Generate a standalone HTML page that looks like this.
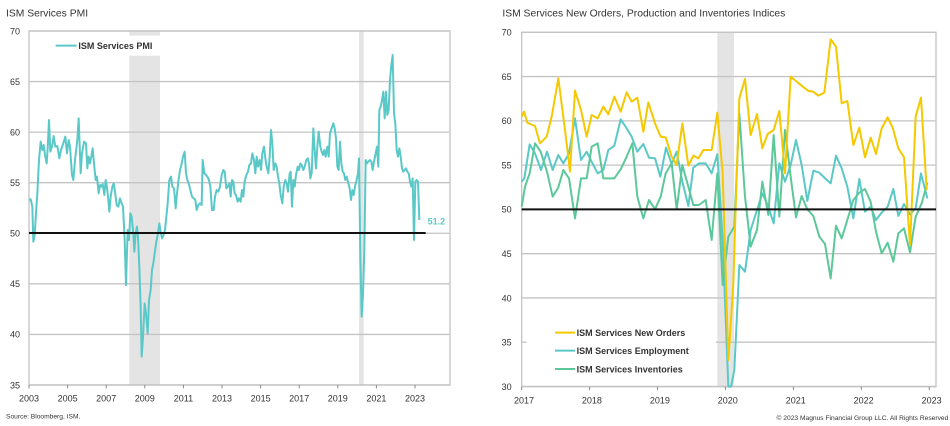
<!DOCTYPE html>
<html><head><meta charset="utf-8"><style>
html,body{margin:0;padding:0;background:#fff;width:950px;height:426px;overflow:hidden}
svg{display:block}
text{font-family:"Liberation Sans",sans-serif;fill:#333}
</style></head><body>
<svg id="s" width="950" height="426" viewBox="0 0 2850 1278" xmlns="http://www.w3.org/2000/svg"></svg>
<script>
var s=document.getElementById('s'),h='';
function ln(x1,y1,x2,y2,c,w){h+='<line x1="'+x1+'" y1="'+y1+'" x2="'+x2+'" y2="'+y2+'" stroke="'+c+'" stroke-width="'+w+'"/>';}
function tx(x,y,t,sz,a,extra){h+='<text x="'+x+'" y="'+y+'" font-size="'+sz+'" text-anchor="'+(a||'start')+'" '+(extra||'')+'>'+t+'</text>';}
function pl(p,c,w){h+='<polyline fill="none" stroke="'+c+'" stroke-width="'+w+'" stroke-linejoin="round" points="'+p+'"/>';}
// LEFT
tx(18,50,'ISM Services PMI',31);
h+='<rect x="388" y="93" width="92" height="1062" fill="#e4e4e4"/><rect x="1077" y="93" width="14" height="1062" fill="#e4e4e4"/>';
for(var v=35;v<=70;v+=5){var y=93+(70-v)*30.34;ln(87,y,1350,y,'#c4c4c4',4);tx(60,y+10,v,27,'end');}
h+='<rect x="87" y="93" width="1263" height="1062" fill="none" stroke="#c4c4c4" stroke-width="4"/>';
h+='<rect x="150" y="107" width="330" height="60" fill="#fff"/>';
ln(167,137,230,137,'#5bc8c8',6);tx(235,147,'ISM Services PMI',27,'start','font-weight="bold" fill="#333"');
for(var i=0;i<=10;i++){var x=87+115.8*i;ln(x,1155,x,1165,'#888',3);tx(x,1205,2003+2*i,27,'middle');}
pl("87,600 92,598 97,620 100,725 104,705 108,640 112,580 117,480 122,425 127,450 131,435 135,465 140,490 143,445 147,360 151,455 156,440 161,408 166,440 172,438 178,475 183,450 190,430 196,410 201,460 206,420 210,440 216,525 220,540 225,480 232,420 236,355 242,520 246,460 252,425 258,430 262,505 266,470 270,490 274,470 278,445 283,500 287,540 291,530 296,580 300,555 304,560 308,552 313,585 317,540 320,555 324,590 328,635 332,590 337,560 341,550 345,575 350,615 355,620 360,595 364,608 369,620 374,720 378,855 383,690 387,720 391,640 395,650 400,700 403,755 407,700 411,680 414,712 418,800 422,920 425,1070 429,1010 434,910 438,940 443,1000 447,900 452,870 456,810 460,790 464,760 469,725 474,700 478,670 482,695 486,715 491,705 495,690 499,650 503,610 508,540 513,530 517,560 522,565 527,625 531,580 535,545 540,510 544,495 549,470 554,455 558,520 562,540 566,550 571,570 576,590 581,595 586,600 590,630 595,615 600,610 605,615 608,480 613,520 618,525 622,530 627,540 631,560 636,630 641,630 645,590 650,570 655,575 660,560 665,525 670,510 674,515 679,565 683,560 688,550 692,590 696,540 700,545 704,580 708,585 713,605 717,595 722,605 726,570 730,590 734,545 739,525 744,515 748,495 753,490 757,460 762,480 766,520 770,470 774,500 779,480 783,510 787,460 792,440 796,475 800,500 805,520 809,470 813,390 817,430 821,510 826,490 830,500 834,530 838,550 842,585 847,610 851,560 856,540 860,550 864,575 869,520 872,515 876,620 880,540 884,560 888,525 893,500 897,510 901,490 905,495 910,510 914,500 919,480 923,475 927,490 931,535 935,520 940,385 944,450 948,505 952,440 956,395 961,440 965,455 969,465 973,450 977,470 982,440 986,470 990,400 995,385 1000,370 1004,385 1008,415 1012,500 1016,510 1020,425 1024,490 1028,515 1032,520 1036,540 1040,530 1045,550 1049,565 1053,600 1057,570 1061,585 1066,555 1070,540 1074,520 1077,475 1081,770 1085,950 1089,880 1093,750 1097,480 1101,490 1105,485 1110,480 1114,485 1118,510 1122,485 1126,465 1131,440 1135,500 1138,330 1142,320 1146,300 1150,275 1154,355 1158,275 1162,345 1166,330 1170,240 1174,195 1178,165 1182,340 1186,370 1190,450 1194,470 1198,445 1202,470 1206,505 1210,515 1214,510 1218,505 1222,515 1226,520 1230,545 1234,560 1238,535 1242,720 1246,545 1250,540 1254,545 1258,660",'#5bc8c8',6);
ln(87,699,1277,699,'#111',6);
tx(1283,673,'51.2',27,'start','font-weight="bold" fill="#5bc8c8" style="fill:#5bc8c8"');
tx(18,1256,'Source: Bloomberg, ISM.',20);
// RIGHT
h+='<g transform="translate(1425,0)">';
tx(82,50,'ISM Services New Orders, Production and Inventories Indices',31);
h+='<rect x="727" y="97" width="50" height="1063" fill="#e4e4e4"/>';
for(var v=30;v<=70;v+=5){var y=97+(70-v)*26.56;ln(140,y,1383,y,'#c4c4c4',4);tx(110,y+10,v,27,'end');}
h+='<rect x="140" y="97" width="1243" height="1063" fill="none" stroke="#c4c4c4" stroke-width="4"/>';
for(var i=0;i<=6;i++){var x=140+203.8*i;ln(x,1160,x,1170,'#888',3);tx(x+7,1210,2017+i,27,'middle');}
h+='<rect x="155" y="965" width="568" height="170" fill="#fff"/>';
pl("140,545 148,535 164,433 180,460 198,510 216,455 233,510 250,465 265,490 282,460 300,355 318,480 335,455 350,485 368,520 385,510 400,450 418,437 437,358 455,385 470,410 487,455 505,432 522,473 540,475 556,530 573,443 590,492 605,455 622,545 640,618 655,503 672,490 692,490 710,520 727,463 743,720 760,1160 768,1160 778,1110 793,795 810,815 827,690 846,630 862,580 880,620 896,670 913,490 930,545 947,495 963,420 980,495 997,603 1015,512 1033,518 1050,535 1067,550 1083,467 1100,505 1117,560 1135,655 1153,537 1170,635 1187,620 1203,660 1220,638 1238,620 1255,567 1270,648 1287,612 1305,643 1322,625 1338,520 1357,595",'#5bc8c8',6);
pl("140,620 150,560 164,520 180,430 197,455 216,515 233,590 250,562 265,510 282,535 300,655 318,535 335,535 350,440 368,430 385,535 400,535 418,535 437,508 455,470 472,430 487,590 505,655 522,600 540,628 557,590 572,520 590,490 605,628 622,495 640,560 655,615 672,615 692,600 710,720 727,520 743,855 760,710 778,680 793,340 810,590 827,740 846,690 862,545 880,645 896,405 913,650 930,390 947,530 963,652 980,588 997,628 1015,648 1033,710 1050,732 1067,835 1083,677 1100,715 1117,660 1135,600 1153,578 1170,567 1187,605 1203,695 1220,760 1238,728 1255,785 1270,700 1287,685 1305,757 1322,650 1340,610 1357,548",'#5cc89a',6);
pl("140,350 147,335 157,368 165,372 180,378 195,430 215,410 230,350 250,235 270,390 285,515 300,272 318,330 335,410 350,345 368,355 385,320 400,343 418,290 437,335 455,277 470,305 487,293 505,395 520,307 540,370 557,410 572,412 590,470 605,495 622,370 640,497 655,467 670,475 685,450 695,450 710,450 727,338 743,520 760,1080 775,850 782,620 793,295 810,237 827,405 846,342 862,445 878,402 896,390 913,333 930,520 947,230 963,243 980,257 1000,273 1015,275 1030,287 1048,278 1067,118 1083,140 1100,310 1117,303 1135,435 1153,383 1170,472 1187,413 1203,462 1220,385 1238,352 1253,383 1270,445 1287,472 1305,735 1322,350 1338,293 1355,570",'#f5c800',6);
ln(140,628,1383,628,'#111',6);
var L=[['ISM Services New Orders','#f5c800',998],['ISM Services Employment','#5bc8c8',1052],['ISM Services Inventories','#5cc89a',1107]];
L.forEach(function(l){ln(240,l[2],300,l[2],l[1],6);tx(305,l[2]+10,l[0],27,'start','font-weight="bold"');});
tx(1420,1260,'© 2023 Magnus Financial Group LLC. All Rights Reserved',20,'end');
h+='</g>';
s.innerHTML=h;
</script>
</body></html>
